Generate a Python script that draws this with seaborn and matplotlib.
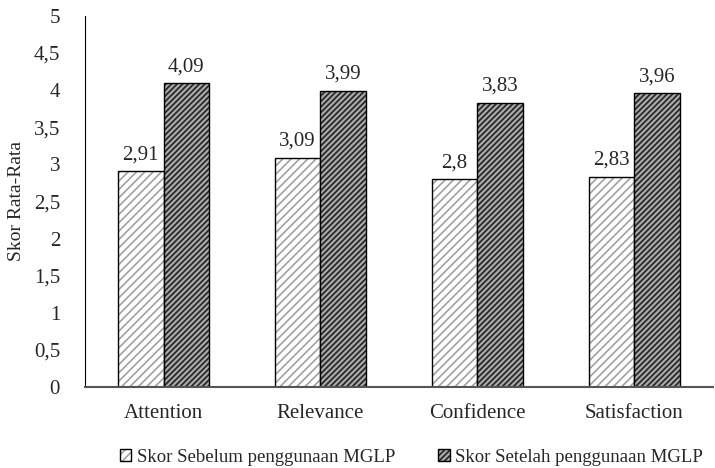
import matplotlib
matplotlib.use("Agg")
import matplotlib.pyplot as plt
import seaborn as sns
import pandas as pd

categories = ["Attention", "Relevance", "Confidence", "Satisfaction"]
sebelum = [2.91, 3.09, 2.80, 2.83]
setelah = [4.09, 3.99, 3.83, 3.96]
series = ["Skor Sebelum penggunaan MGLP", "Skor Setelah penggunaan MGLP"]

df = pd.DataFrame({
    "kategori": categories * 2,
    "skor": sebelum + setelah,
    "seri": [series[0]] * 4 + [series[1]] * 4,
})

sns.set_style("white")
plt.rcParams["font.family"] = ["Liberation Serif", "DejaVu Serif"]
plt.rcParams["hatch.linewidth"] = 1.2

fig = plt.figure(figsize=(7.15, 4.68), dpi=100)
ax = fig.add_axes([0.119, 0.173, 0.878, 0.793])

sns.barplot(data=df, x="kategori", y="skor", hue="seri", order=categories,
            hue_order=series, palette=["white", "#b0b0b0"], width=0.58,
            edgecolor="black", linewidth=1.0, ax=ax)

# hatching: light dashed-looking strokes before, dense dark strokes after
styles = {series[0]: ("white", "#a0a0a0", "////"), series[1]: ("#a8a8a8", "#222222", "//////")}
for cont, name in zip(ax.containers, series):
    face, hc, hatch = styles[name]
    for bar in cont:
        bar.set_facecolor(face)
        bar.set_hatch(hatch)
        bar._hatch_color = matplotlib.colors.to_rgba(hc)
    ax.bar_label(cont, labels=[f"{v:.2f}".rstrip("0").replace(".", ",") for v in cont.datavalues],
                 padding=5, fontsize=15)

ax.set_ylim(0, 5)
ax.set_yticks([0, 0.5, 1, 1.5, 2, 2.5, 3, 3.5, 4, 4.5, 5])
ax.set_yticklabels(["0", "0,5", "1", "1,5", "2", "2,5", "3", "3,5", "4", "4,5", "5"], fontsize=15)
ax.tick_params(axis="x", labelsize=15, length=0, pad=12)
ax.tick_params(axis="y", length=0, pad=18)
ax.set_xlabel("")
ax.set_ylabel("Skor Rata-Rata", fontsize=14, labelpad=6)
sns.despine(ax=ax, top=True, right=True)
ax.spines["left"].set_color("black")
ax.spines["bottom"].set_color("#555555")
ax.spines["bottom"].set_linewidth(1.5)

handles, labels = ax.get_legend_handles_labels()
for h, name in zip(handles, series):
    face, hc, hatch = styles[name]
    h.set_facecolor(face)
    h.set_hatch(hatch)
    h._hatch_color = matplotlib.colors.to_rgba(hc)
ax.legend(handles, labels, loc="center", bbox_to_anchor=(0.52, -0.19), ncol=2,
          frameon=False, prop={"family": "Liberation Serif", "size": 13.5},
          handlelength=0.6, handleheight=0.6, handletextpad=0.3, columnspacing=2.3)

fig.savefig("out.png", dpi=100)
